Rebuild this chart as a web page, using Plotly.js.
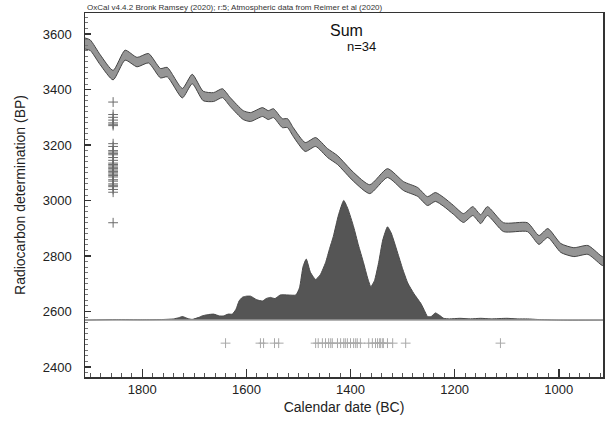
<!DOCTYPE html>
<html>
<head>
<meta charset="utf-8">
<script src="https://cdn.plot.ly/plotly-3.0.1.min.js"></script>
<style>html,body{margin:0;padding:0;background:#fff;}#chart{width:606px;height:424px;}</style>
</head>
<body>
<div id="chart"></div>
<script>
// Calibration curve (calendar year BC, radiocarbon BP, half-width)
const calYears = [1910,1900,1881,1856,1833,1810,1788,1765,1752,1723,1704,1683,1663,1646,1631,1606,1592,1569,1558,1548,1531,1521,1510,1487,1467,1444,1425,1394,1363,1329,1298,1271,1252,1237,1221,1202,1183,1165,1150,1137,1106,1060,1038,1021,996,971,944,919,912];
const calBP    = [3566,3560,3508,3452,3524,3499,3513,3459,3463,3387,3438,3377,3373,3387,3355,3308,3301,3319,3308,3315,3279,3279,3247,3193,3211,3171,3146,3085,3041,3099,3052,3031,2998,3013,2995,2966,2937,2962,2933,2962,2904,2904,2858,2883,2829,2814,2822,2785,2778];
const calErr   = [20,19,18,17,18,17,17,17,17,17,17,17,16,16,16,16,16,16,16,16,16,16,16,16,16,16,16,16,16,16,16,16,16,16,16,16,16,16,16,16,16,16,16,16,16,16,16,16,16];

// Summed probability distribution (relative)
const sumYears = [1910,1850,1800,1760,1740,1730,1723,1712,1704,1690,1685,1675,1663,1652,1644,1635,1627,1620,1614,1608,1600,1592,1580,1569,1562,1554,1545,1535,1520,1505,1498,1491,1485,1477,1467,1458,1448,1440,1433,1423,1413,1405,1394,1385,1375,1367,1361,1354,1346,1338,1329,1322,1310,1300,1290,1278,1265,1258,1252,1245,1237,1229,1221,1210,1190,1170,1150,1130,1100,1080,1060,1040,1000,915];
const sumProb  = [0.0,0.005,0.003,0.005,0.01,0.02,0.03,0.012,0.006,0.025,0.035,0.045,0.05,0.035,0.035,0.05,0.05,0.09,0.16,0.19,0.2,0.2,0.17,0.16,0.18,0.19,0.18,0.21,0.21,0.21,0.27,0.45,0.51,0.4,0.34,0.38,0.48,0.6,0.7,0.88,1.0,0.93,0.78,0.63,0.48,0.35,0.28,0.33,0.48,0.67,0.78,0.73,0.57,0.43,0.31,0.22,0.14,0.08,0.03,0.03,0.06,0.04,0.015,0.01,0.015,0.01,0.015,0.01,0.015,0.01,0.01,0.005,0.0,0.0];
const baseYears = [1910,915];
const baseProb = [0,0];

// Individual dates: radiocarbon ages (plotted at left) and calibrated medians (plotted along bottom)
const dateBP = [3355,3310,3300,3290,3280,3275,3270,3205,3195,3180,3175,3170,3165,3155,3145,3135,3130,3125,3120,3115,3110,3105,3100,3095,3090,3085,3075,3070,3060,3055,3050,3040,3030,2920];
const dateBPYear = 1856;
const medianYears = [1640,1573,1567,1546,1538,1467,1462,1454,1448,1442,1438,1435,1425,1419,1413,1410,1406,1400,1394,1390,1387,1381,1365,1358,1352,1348,1344,1342,1338,1337,1329,1319,1294,1112];
const medianBP = 2486;

const traces = [
  {x: calYears, y: calBP.map((v,i)=>v-calErr[i]), mode:'lines', line:{color:'#444', width:1, shape:'spline', smoothing:0.6}, hoverinfo:'skip', showlegend:false},
  {x: calYears, y: calBP.map((v,i)=>v+calErr[i]), mode:'lines', fill:'tonexty', fillcolor:'#959595', line:{color:'#444', width:1, shape:'spline', smoothing:0.6}, hoverinfo:'skip', showlegend:false},
  {x: sumYears, y: sumProb, yaxis:'y2', mode:'lines', fill:'tozeroy', fillcolor:'#555555', line:{color:'#4a4a4a', width:1, shape:'spline', smoothing:0.5}, hoverinfo:'skip', showlegend:false},
  {x: baseYears, y: baseProb, yaxis:'y2', mode:'lines', line:{color:'#9a9a9a', width:1.5}, hoverinfo:'skip', showlegend:false},
  {x: dateBP.map(()=>dateBPYear), y: dateBP, mode:'markers', marker:{symbol:'cross-thin-open', size:7, color:'#6a6a6a', line:{color:'#6a6a6a', width:1}}, hoverinfo:'skip', showlegend:false},
  {x: medianYears, y: medianYears.map(()=>medianBP), mode:'markers', marker:{symbol:'cross-thin-open', size:7, color:'#a8a8a8', line:{color:'#a8a8a8', width:1}}, hoverinfo:'skip', showlegend:false}
];

const axisFont = {family:'Liberation Sans, Arial, sans-serif', size:13, color:'#222'};
const layout = {
  width:606, height:424,
  margin:{l:85, r:3, t:13, b:47},
  paper_bgcolor:'#fff', plot_bgcolor:'#fff',
  font:{family:'Liberation Sans, Arial, sans-serif', color:'#222'},
  xaxis:{range:[1910,915], tick0:0, dtick:200, ticks:'inside', ticklen:8, tickwidth:1.5, tickcolor:'#333',
         minor:{dtick:20, ticks:'inside', ticklen:4, tickcolor:'#555', tickwidth:1},
         showgrid:false, zeroline:false, showline:true, linecolor:'#333', linewidth:1.5, mirror:true,
         tickfont:axisFont, ticklabelstandoff:0,
         title:{text:'Calendar date (BC)', font:{size:14, color:'#222'}, standoff:6}},
  yaxis:{range:[2364,3676], tick0:0, dtick:200, ticks:'inside', ticklen:6, tickwidth:1.5, tickcolor:'#333',
         minor:{dtick:20, ticks:'inside', ticklen:3, tickcolor:'#777', tickwidth:1},
         showgrid:false, zeroline:false, showline:true, linecolor:'#333', linewidth:1.5, mirror:true,
         tickfont:axisFont, ticksuffix:'\u2002\u2009',
         title:{text:'Radiocarbon determination (BP)', font:{size:14, color:'#222'}, standoff:14}},
  yaxis2:{overlaying:'y', range:[-0.4758, 2.568], visible:false, showgrid:false, zeroline:false},
  annotations:[
    {xref:'paper', yref:'paper', x:0, y:1, xanchor:'left', yanchor:'bottom', yshift:-1, text:'OxCal v4.4.2 Bronk Ramsey (2020); r:5; Atmospheric data from Reimer et al (2020)', showarrow:false, font:{size:8, color:'#333'}},
    {xref:'paper', yref:'paper', x:0.505, y:0.952, xanchor:'center', yanchor:'middle', text:'Sum', showarrow:false, font:{size:16, color:'#111'}},
    {xref:'paper', yref:'paper', x:0.533, y:0.908, xanchor:'center', yanchor:'middle', text:'n=34', showarrow:false, font:{size:13, color:'#111'}}
  ]
};
Plotly.newPlot('chart', traces, layout, {staticPlot:true, displayModeBar:false});
</script>
</body>
</html>
